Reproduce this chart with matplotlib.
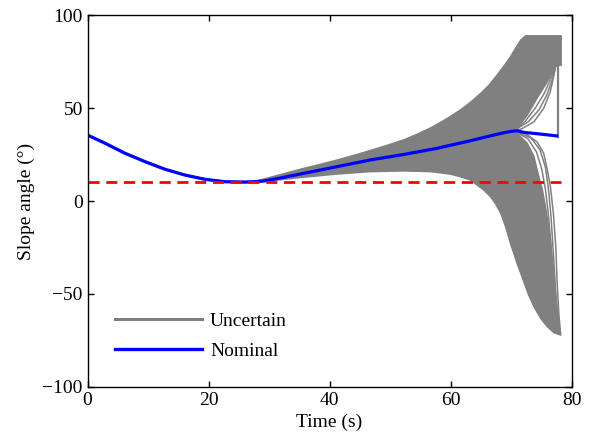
import numpy as np
import matplotlib.pyplot as plt
from matplotlib.lines import Line2D

plt.rcParams['font.family'] = ['Liberation Serif', 'DejaVu Serif']
plt.rcParams['font.size'] = 14

# nominal trajectory
t_nom = [0, 2.9, 6.2, 9.5, 12.8, 16.1, 19.4, 22.7, 26.0, 28.0, 29.4, 32.5, 35.7, 41.2, 46.7, 52.3,
         57.8, 63.3, 66.7, 69.0, 70.2, 71.0, 72.1, 75.0, 77.8]
y_nom = [35.5, 31.1, 25.7, 21.2, 17.1, 14.0, 11.7, 10.4, 10.2, 10.5, 10.9, 12.8, 14.9, 18.5, 22.1, 25.1,
         28.4, 32.5, 35.2, 36.9, 37.6, 37.8, 37.0, 36.0, 35.0]

# upper envelope of the uncertain runs (after they leave the nominal)
t_up = [28.0, 30.2, 33.0, 35.7, 38.5, 41.2, 44.0, 46.7, 49.5, 52.3, 54.5, 56.7, 58.3, 59.9, 61.6,
        63.3, 65.0, 66.4, 67.7, 68.8, 69.9, 70.8, 71.6, 72.4, 78.3]
y_up = [10.9, 12.8, 15.2, 17.6, 19.8, 22.1, 24.6, 27.2, 30.0, 33.0, 36.0, 39.4, 42.3, 45.4, 49.0,
        53.2, 58.0, 62.6, 67.9, 72.6, 77.7, 82.5, 86.7, 89.0, 89.0]

# right side: step down, notch between the two lobes, solid right edge of lower lobe
t_right = [78.3, 77.4, 77.1, 76.0, 74.3, 72.7, 71.0, 70.6, 71.3, 72.7, 73.8, 74.6, 75.2, 75.8, 76.5, 77.1, 77.6, 78.2]
y_right = [73.2, 72.5, 70.5, 64.2, 55.3, 46.3, 39.1, 37.8, 35.5, 31.1, 23.9, 13.1, 5.9, -5.0, -20.0, -40.0, -58.0, -72.2]

# lower envelope, from right to left
t_low = [77.1, 76.0, 74.9, 73.8, 72.9, 72.1, 71.0, 69.9, 69.1, 68.3, 67.4, 66.6, 65.5, 63.8, 63.3,
         61.5, 59.9, 56.7, 52.3, 46.7, 41.2, 35.7, 30.2, 28.0]
y_low = [-70.9, -67.7, -63.2, -56.9, -50.6, -43.4, -33.6, -22.8, -13.8, -6.6, -1.3, 2.3, 5.9, 10.0, 11.3,
         13.2, 14.5, 15.8, 16.2, 15.8, 14.5, 12.8, 10.9, 10.0]

# single runs visible in the gap between the lobes
gap_t = [[70.6, 71.6, 73.8, 75.4, 76.5, 77.1, 77.3],
         [70.8, 72.8, 74.6, 75.9, 76.9, 77.3],
         [70.9, 72.3, 74.0, 75.5, 76.6, 77.3],
         [71.2, 72.1, 74.3, 75.4, 76.0, 76.5, 77.0, 77.4, 77.6, 77.9, 78.2],
         [71.2, 73.3, 74.8, 75.7, 76.2, 76.6, 77.0, 77.4, 77.9],
         [71.2, 72.8, 74.2, 75.1, 75.7, 76.2, 76.7, 77.2]]
gap_y = [[38.5, 38.6, 42.7, 49.9, 58.9, 67.9, 72.0],
         [38.7, 42.5, 49.0, 57.0, 66.0, 71.5],
         [38.9, 42.8, 50.0, 58.0, 66.0, 71.0],
         [37.5, 37.0, 31.9, 25.7, 16.7, 8.0, -6.6, -24.6, -42.5, -60.5, -72.0],
         [37.0, 34.0, 27.5, 18.0, 6.0, -8.0, -28.0, -50.0, -68.0],
         [36.5, 33.5, 26.5, 17.0, 6.0, -8.0, -28.0, -52.0]]

# last vertical jump of the runs that stop
jump_t = [77.8, 77.8]
jump_y = [34.6, 73.2]

limit = 10
t_limit_end = 78.3

grey = '#808080'

fig = plt.figure(figsize=(5.92, 4.38), dpi=100)
ax = fig.add_axes([0.148, 0.117, 0.8174, 0.848])

# band outline: nominal up to the split, upper envelope, right side, lower envelope, back along nominal
i_split = t_nom.index(28.0)
poly_t = t_nom[:i_split] + t_up + t_right + t_low + t_nom[:i_split][::-1]
poly_y = [v + 0.3 for v in y_nom[:i_split]] + y_up + y_right + y_low + [v - 0.3 for v in y_nom[:i_split][::-1]]
ax.fill(poly_t, poly_y, color=grey, lw=1.0, ec=grey)

for gt, gy in zip(gap_t, gap_y):
    ax.plot(gt, gy, color=grey, lw=1.1)
ax.plot(jump_t, jump_y, color=grey, lw=1.6)

ax.plot(t_nom, y_nom, color='#0000ff', lw=2.3, solid_capstyle='butt')
ax.plot([0, t_limit_end], [limit, limit], color='#ff0000', lw=2.0, dashes=(4, 2.4))

ax.set_xlim(0, 80)
ax.set_ylim(-100, 100)
ax.set_xticks([0, 20, 40, 60, 80])
ax.set_yticks([-100, -50, 0, 50, 100])
ax.tick_params(direction='in', top=True, right=True, length=4, width=1)
for s in ax.spines.values():
    s.set_linewidth(1.0)
ax.set_xlabel('Time (s)', labelpad=4)
ax.set_ylabel('Slope angle (°)', labelpad=5)

handles = [Line2D([], [], color=grey, lw=2.2), Line2D([], [], color='#0000ff', lw=2.4)]
ax.legend(handles, ['Uncertain', 'Nominal'], loc='upper left', bbox_to_anchor=(0.056, 0.20),
          frameon=False, borderpad=0, borderaxespad=0, handlelength=4.5, handletextpad=0.4,
          labelspacing=0.62)

fig.savefig('out.png', dpi=100)
